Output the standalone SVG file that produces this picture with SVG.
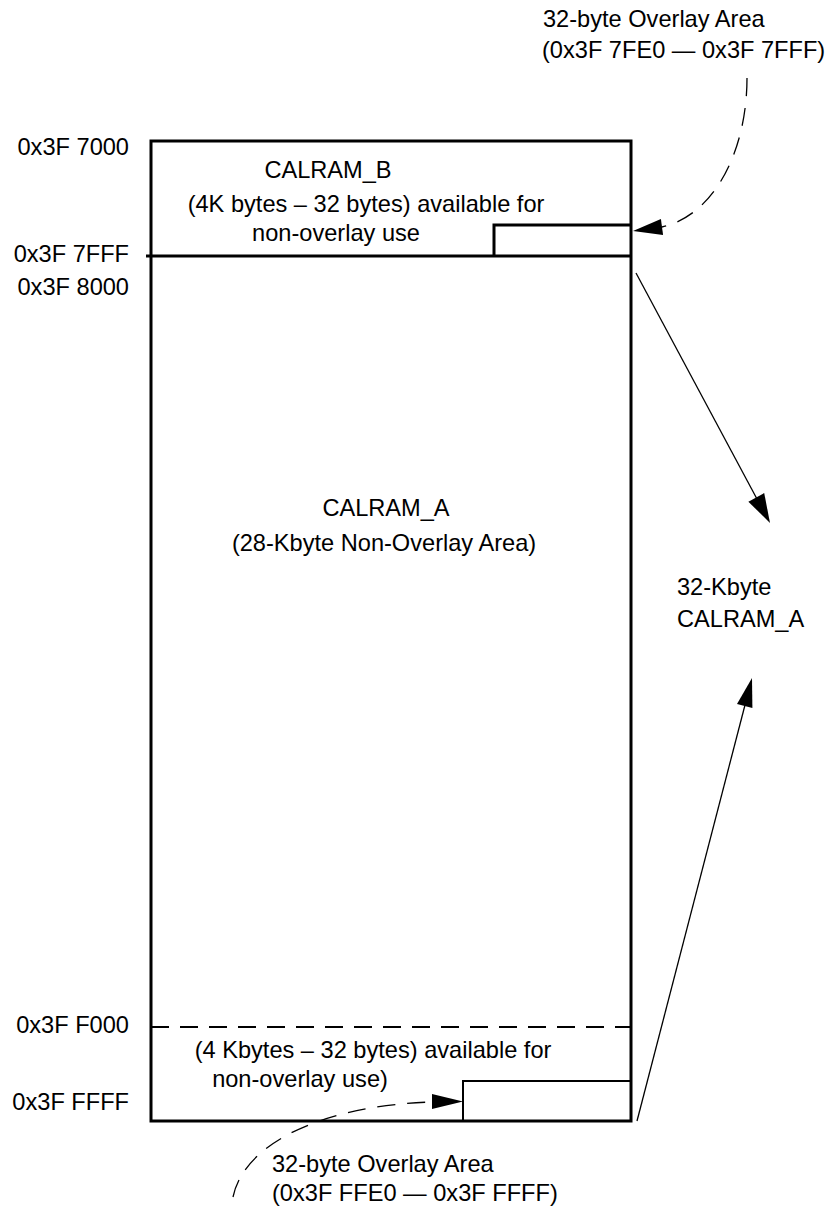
<svg xmlns="http://www.w3.org/2000/svg" width="834" height="1211" viewBox="0 0 834 1211">
<style>
text{font-family:"Liberation Sans",Arial,sans-serif;font-size:23.6px;fill:#000}
.m{text-anchor:middle}
.e{text-anchor:end}
.box{fill:none;stroke:#000;stroke-width:3}
.thin{fill:none;stroke:#000;stroke-width:2}
.conn{fill:none;stroke:#000;stroke-width:1.3}
.dash{fill:none;stroke:#000;stroke-width:1.3;stroke-dasharray:18 12}
.head{fill:#000;stroke:none}
</style>
<rect width="834" height="1211" fill="#fff"/>
<g id="memory-block">
<rect class="box" x="151" y="141" width="480" height="980"/>
<line class="box" x1="146" y1="256" x2="631" y2="256"/>
<line x1="151" y1="1027" x2="631" y2="1027" stroke="#000" stroke-width="2" stroke-dasharray="18 11"/>
</g>
<g id="calram-b">
<text class="m" x="328" y="178">CALRAM_B</text>
<text class="m" x="366" y="212">(4K bytes – 32 bytes) available for</text>
<text class="m" x="336" y="241">non-overlay use</text>
</g>
<g id="overlay-b">
<path class="box" d="M494 256V225H631"/>
</g>
<g id="calram-a">
<text class="m" x="386" y="516">CALRAM_A</text>
<text class="m" x="384" y="551">(28-Kbyte Non-Overlay Area)</text>
</g>
<g id="calram-a-top">
<text class="m" x="373" y="1058">(4 Kbytes – 32 bytes) available for</text>
<text class="m" x="300" y="1087">non-overlay use)</text>
</g>
<g id="overlay-a">
<path class="thin" d="M463 1121V1081H631"/>
</g>
<g id="addresses">
<text class="e" x="129" y="155">0x3F 7000</text>
<text class="e" x="129" y="262">0x3F 7FFF</text>
<text class="e" x="129" y="295">0x3F 8000</text>
<text class="e" x="129" y="1033">0x3F F000</text>
<text class="e" x="129" y="1110">0x3F FFFF</text>
</g>
<g id="label-32k">
<text x="677" y="595">32-Kbyte</text>
<text x="677" y="627">CALRAM_A</text>
</g>
<g id="label-overlay-b">
<text x="543" y="27">32-byte Overlay Area</text>
<text x="542" y="58">(0x3F 7FE0 — 0x3F 7FFF)</text>
</g>
<g id="label-overlay-a">
<text x="272" y="1172">32-byte Overlay Area</text>
<text x="272" y="1201">(0x3F FFE0 — 0x3F FFFF)</text>
</g>
<g id="connectors">
<line class="conn" x1="636" y1="273" x2="757" y2="499"/>
<polygon class="head" points="770,523 748.4,501.7 764.2,493.1"/>
<line class="conn" x1="637" y1="1121" x2="745" y2="705"/>
<polygon class="head" points="752,678 752.4,708.1 737,704.1"/>
<path class="dash" d="M747 78C747 150 715 215 662 227"/>
<polygon class="head" points="633,231 660.9,219.1 663.1,234.9"/>
<path class="dash" d="M233 1197C245 1140 330 1105 432 1102"/>
<polygon class="head" points="463,1101.5 432,1094 432,1109"/>
</g>
</svg>
